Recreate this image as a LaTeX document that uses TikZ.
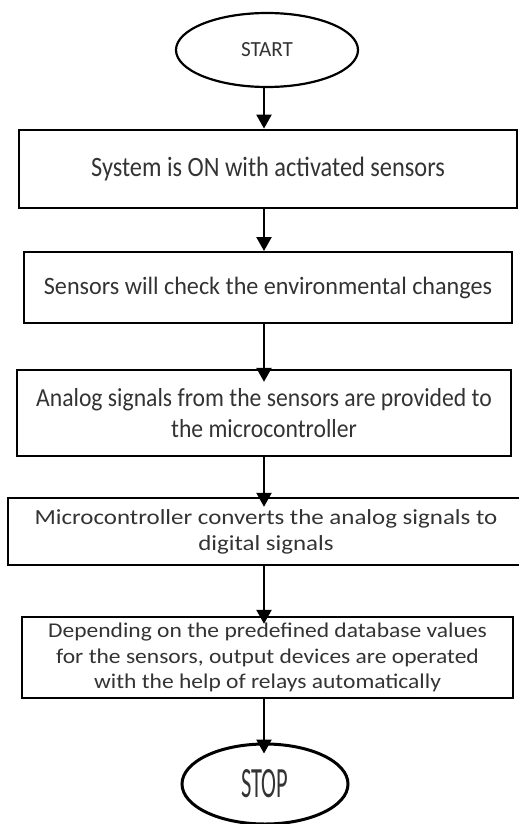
\documentclass[tikz,border=0pt]{standalone}
\usepackage{fontspec}
\setmainfont{Carlito}
\usetikzlibrary{arrows.meta,shapes.geometric}
\definecolor{txt}{rgb}{0.2,0.2,0.2}
\newcommand\sqz[2]{\scalebox{#1}[1]{#2}}
\begin{document}
\begin{tikzpicture}[x=1pt,y=-1pt,
  box/.style={draw=black,line width=2.4pt,rectangle,inner sep=0pt,align=center,text=txt},
  oval/.style={draw=black,ellipse,inner sep=0pt,text=txt},
  arr/.style={line width=2.4pt,-{Triangle[width=15pt,length=14pt]}},
  fs/.style 2 args={font={\fontsize{#1}{#2}\selectfont\lineskiplimit=-\maxdimen}}]
\useasboundingbox (0,0) rectangle (519,824);
\coordinate (ax) at (264,0);

\node[oval,line width=2.2pt,minimum width=182pt,minimum height=74pt] (start) at (267,50)
  {\resizebox{52pt}{14pt}{START}};

\node[box,line width=2.8pt,minimum width=498pt,minimum height=78pt,fs={28}{32}] (b1) at (268,169)
  {\sqz{0.87}{System is ON with activated sensors}};

\node[box,line width=2pt,minimum width=488pt,minimum height=71pt,fs={25}{31}] (b2) at (268,287.5)
  {\sqz{0.966}{Sensors will check the environmental changes}};

\node[box,minimum width=494pt,minimum height=86pt,fs={26}{31}] (b3) at (264,413)
  {\sqz{0.91}{Analog signals from the sensors are provided to}\\\sqz{0.91}{the microcontroller}};

\node[box,minimum width=516pt,minimum height=67pt,fs={21.5}{26}] (b4) at (266,531.5)
  {\sqz{1.16}{Microcontroller converts the analog signals to}\\\sqz{1.16}{digital signals}};

\node[box,minimum width=491pt,minimum height=81pt,fs={21}{25.5}] (b5) at (267.5,657.5)
  {\sqz{1.12}{Depending on the predefined database values}\\\sqz{1.12}{for the sensors, output devices are operated}\\\sqz{1.12}{with the help of relays automatically}};

\node[oval,line width=3pt,minimum width=166pt,minimum height=80pt] (stop) at (265,784)
  {\resizebox{47pt}{28pt}{STOP}};

\draw[arr] (start.south -| ax) -- (b1.north -| ax);
\draw[arr] (b1.south -| ax) -- (b2.north -| ax);
\draw[arr,shorten >=-13pt] (b2.south -| ax) -- (b3.north -| ax);
\draw[arr,shorten >=-10pt] (b3.south -| ax) -- (b4.north -| ax);
\draw[arr,shorten >=-8pt] (b4.south -| ax) -- (b5.north -| ax);
\draw[arr,shorten >=-11pt] (b5.south -| ax) -- (stop.north -| ax);
\end{tikzpicture}
\end{document}
